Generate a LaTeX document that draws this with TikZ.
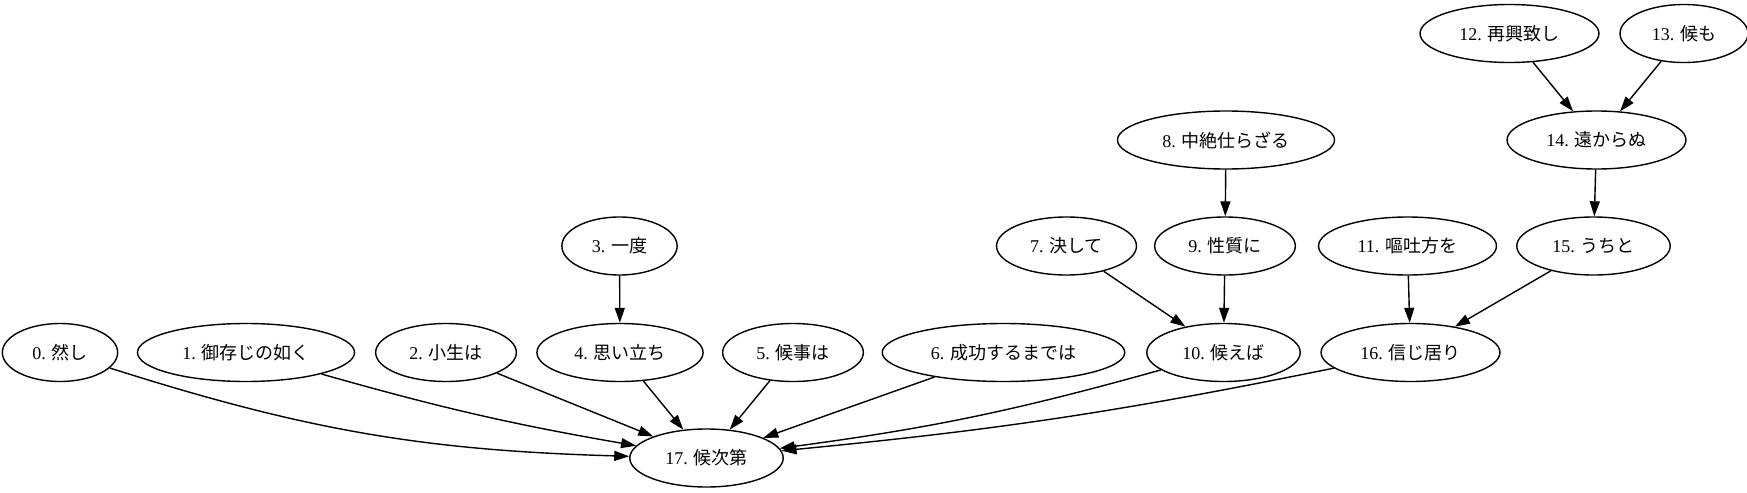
\documentclass[tikz,border=0pt]{standalone}
\usepackage{fontspec}
\setmainfont{Liberation Serif}
\newfontfamily\cjk{Noto Sans CJK JP}
\usetikzlibrary{shapes.geometric,arrows.meta}
\begin{document}
\begin{tikzpicture}[x=0.5pt,y=-0.5pt,
        elipse/.style={draw, ellipse, line width=0.7pt, inner xsep=6.5pt, inner ysep=2pt,
            minimum height=29pt, font=\fontsize{9pt}{11pt}\selectfont},
        flecha/.style={-{Triangle[length=7.5pt,width=5pt]}, line width=0.7pt}]
        \useasboundingbox (0,0) rectangle (1747,493);

        % Nodos
        \node[elipse] (n12) at (1509.5,33.5) {12. {\cjk 再興致し}};
        \node[elipse] (n13) at (1684,33.5) {13. {\cjk 候も}};

        \node[elipse] (n8) at (1226,140) {8. {\cjk 中絶仕らざる}};
        \node[elipse] (n14) at (1596.5,140) {14. {\cjk 遠からぬ}};

        \node[elipse] (n3) at (619.5,246) {3. {\cjk 一度}};
        \node[elipse] (n7) at (1066.5,246) {7. {\cjk 決して}};
        \node[elipse] (n9) at (1225,246) {9. {\cjk 性質に}};
        \node[elipse] (n11) at (1407.5,246) {11. {\cjk 嘔吐方を}};
        \node[elipse] (n15) at (1593.5,246) {15. {\cjk うちと}};

        \node[elipse] (n0) at (60,352.5) {0. {\cjk 然し}};
        \node[elipse] (n1) at (246,352.5) {1. {\cjk 御存じの如く}};
        \node[elipse] (n2) at (446,352.5) {2. {\cjk 小生は}};
        \node[elipse] (n4) at (620,352.5) {4. {\cjk 思い立ち}};
        \node[elipse] (n5) at (793,352.5) {5. {\cjk 候事は}};
        \node[elipse] (n6) at (1003.5,352.5) {6. {\cjk 成功するまでは}};
        \node[elipse] (n10) at (1223.5,352.5) {10. {\cjk 候えば}};
        \node[elipse] (n16) at (1410.5,352.5) {16. {\cjk 信じ居り}};

        \node[elipse] (n17) at (706.5,458) {17. {\cjk 候次第}};

        % Flechas
        \draw[flecha] (n12) -- (n14);
        \draw[flecha] (n13) -- (n14);
        \draw[flecha] (n14) -- (n15);
        \draw[flecha] (n8) -- (n9);
        \draw[flecha] (n3) -- (n4);
        \draw[flecha] (n7) -- (n10);
        \draw[flecha] (n9) -- (n10);
        \draw[flecha] (n11) -- (n16);
        \draw[flecha] (n15) -- (n16);

        \draw[flecha] (n0) to[bend right=8] (n17);
        \draw[flecha] (n1) to[bend right=3] (n17);
        \draw[flecha] (n2) -- (n17);
        \draw[flecha] (n4) -- (n17);
        \draw[flecha] (n5) -- (n17);
        \draw[flecha] (n6) -- (n17);
        \draw[flecha] (n10) to[bend left=4] (n17);
        \draw[flecha] (n16) to[bend left=3] (n17);
    \end{tikzpicture}
\end{document}
